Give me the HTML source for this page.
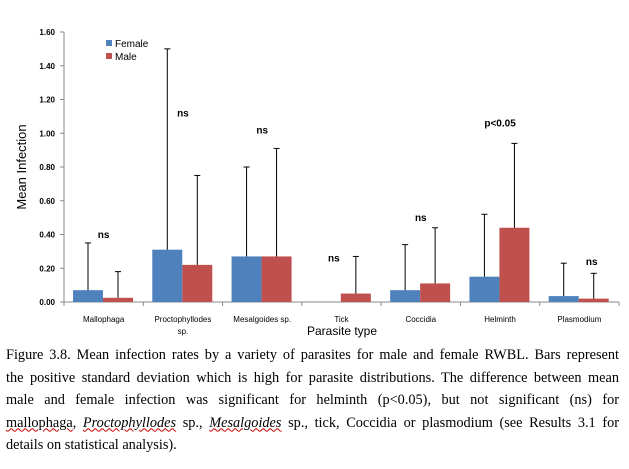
<!DOCTYPE html>
<html><head><meta charset="utf-8"><style>
body{margin:0;width:629px;height:469px;background:#fff;overflow:hidden;font-family:"Liberation Sans",sans-serif}
#cap{position:absolute;left:6px;top:344px;width:613px;font-family:"Liberation Serif",serif;font-size:14.3px;line-height:22.5px;color:#000}
#cap div{text-align:justify;text-align-last:justify;white-space:nowrap}
#cap div.last{text-align-last:left}
.sq{text-decoration:underline wavy #c00;text-decoration-thickness:1px}
</style></head><body>
<svg id="chart" width="629" height="340" style="position:absolute;left:0;top:0" font-family="Liberation Sans, sans-serif"></svg>
<div id="cap">
<div>Figure 3.8. Mean infection rates by a variety of parasites for male and female RWBL. Bars represent</div>
<div>the positive standard deviation which is high for parasite distributions. The difference between mean</div>
<div>male and female infection was significant for helminth (p&lt;0.05), but not significant (ns) for</div>
<div><span class="sq">mallophaga</span>, <i class="sq">Proctophyllodes</i> sp., <i class="sq">Mesalgoides</i> sp., tick, Coccidia or plasmodium (see Results 3.1 for</div>
<div class="last">details on statistical analysis).</div>
</div>
<script>
const categories=["Mallophaga","Proctophyllodes|sp.","Mesalgoides sp.","Tick","Coccidia","Helminth","Plasmodium"];
const female=[0.07,0.31,0.27,0,0.07,0.15,0.035];
const male=[0.025,0.22,0.27,0.05,0.11,0.44,0.02];
const femaleTop=[0.35,1.50,0.80,null,0.34,0.52,0.23];
const maleTop=[0.18,0.75,0.91,0.27,0.44,0.94,0.17];
const sigLabels=["ns","ns","ns","ns","ns","p<0.05","ns"];
const sigValues=[0.38,1.10,1.00,0.24,0.48,1.04,0.22];
const yTicks=[0,0.2,0.4,0.6,0.8,1.0,1.2,1.4,1.6];
const svg=document.getElementById('chart');const NS='http://www.w3.org/2000/svg';
const x0=64,x1=619,y0=302,yTop=32;
const y=v=>y0-(v/1.6)*(y0-yTop);
const cw=(x1-x0)/categories.length;
const cx=i=>x0+cw*i;
function mk(t,a,name){const e=document.createElementNS(NS,t);for(const k in a)e.setAttribute(k,a[k]);svg.appendChild(e);return e;}
mk('line',{x1:x0,y1:yTop,x2:x0,y2:y0,stroke:'#888'},'y-axis');
mk('line',{x1:x0,y1:y0,x2:x1,y2:y0,stroke:'#888'},'x-axis');
yTicks.forEach(t=>{mk('line',{x1:x0-4,y1:y(t),x2:x0,y2:y(t),stroke:'#888'},'y-tick');
const tx=mk('text',{x:x0-9,y:y(t)+3,'font-size':8,'font-weight':'bold','text-anchor':'end'},'y-tick-label');tx.textContent=t.toFixed(2);});
for(let i=0;i<=categories.length;i++)mk('line',{x1:cx(i),y1:y0,x2:cx(i),y2:y0+4,stroke:'#888'},'x-tick');
const bw=30,off=9;
categories.forEach((c,i)=>{
const fx=cx(i)+off,mx=fx+bw;
if(female[i]>0)mk('rect',{x:fx,y:y(female[i]),width:bw,height:y0-y(female[i]),fill:'#4f81bd'},'bar-female');
mk('rect',{x:mx,y:y(male[i]),width:bw,height:y0-y(male[i]),fill:'#c0504d'},'bar-male');
if(femaleTop[i]!=null){mk('line',{x1:fx+bw/2,y1:y(female[i]),x2:fx+bw/2,y2:y(femaleTop[i]),stroke:'#000'},'error-bar-female');mk('line',{x1:fx+bw/2-3,y1:y(femaleTop[i]),x2:fx+bw/2+3,y2:y(femaleTop[i]),stroke:'#000'},'error-cap-female');}
mk('line',{x1:mx+bw/2,y1:y(male[i]),x2:mx+bw/2,y2:y(maleTop[i]),stroke:'#000'},'error-bar-male');mk('line',{x1:mx+bw/2-3,y1:y(maleTop[i]),x2:mx+bw/2+3,y2:y(maleTop[i]),stroke:'#000'},'error-cap-male');
const parts=c.split('|');parts.forEach((p,k)=>{const t=mk('text',{x:cx(i)+cw/2,y:322+k*12,'font-size':8,'text-anchor':'middle'},'x-tick-label');t.textContent=p;});
const sx=i===3?fx+bw/2+8:(i===6?mx+bw/2-2:cx(i)+cw/2);
const s=mk('text',{x:sx,y:y(sigValues[i]),'font-size':10,'font-weight':'bold','text-anchor':'middle'},'significance-label');s.textContent=sigLabels[i];
});
const yt=mk('text',{x:26,y:167,'font-size':13,'text-anchor':'middle',transform:'rotate(-90 26 167)'},'y-axis-title');yt.textContent='Mean Infection';
const xt=mk('text',{x:342,y:335,'font-size':12,'text-anchor':'middle'},'x-axis-title');xt.textContent='Parasite type';
mk('rect',{x:106,y:40,width:6,height:6,fill:'#4f81bd'},'legend-swatch-female');
const l1=mk('text',{x:115,y:47,'font-size':10},'legend-label-female');l1.textContent='Female';
mk('rect',{x:106,y:53,width:6,height:6,fill:'#c0504d'},'legend-swatch-male');
const l2=mk('text',{x:115,y:60,'font-size':10},'legend-label-male');l2.textContent='Male';
</script>
</body></html>
